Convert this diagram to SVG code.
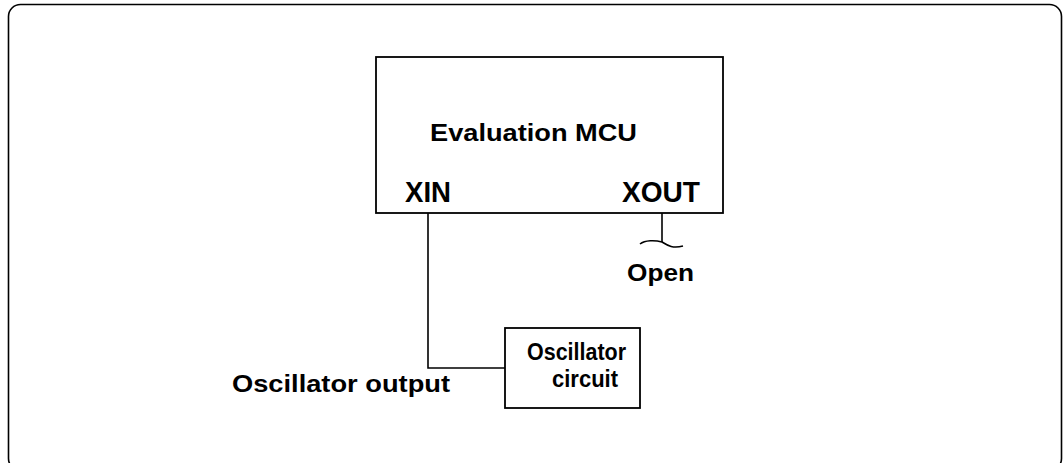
<svg xmlns="http://www.w3.org/2000/svg" width="1063" height="463" viewBox="0 0 1063 463">
<style>
.box{fill:#fff;stroke:#000;stroke-width:1.8}
.frame{fill:none;stroke:#000;stroke-width:1.6}
.wire{fill:none;stroke:#000;stroke-width:1.6}
.t{font-family:"Liberation Sans",Arial,sans-serif;font-weight:bold;fill:#000}
</style>
<rect x="0" y="0" width="1063" height="463" fill="#fff"/>
<rect class="frame" x="8.5" y="4.5" width="1053" height="466" rx="12"/>
<g id="connectors">
<polyline class="wire" points="428,213 428,368 505,368"/>
<line class="wire" x1="662" y1="213" x2="662" y2="242"/>
<path class="wire" d="M640,244 C645,240 655,240 662,242 C667,245 672,249 683,246"/>
</g>
<g id="mcu">
<rect class="box" x="376" y="57" width="347" height="156"/>
<text class="t" x="430" y="141" font-size="24" textLength="207" lengthAdjust="spacingAndGlyphs">Evaluation MCU</text>
<text class="t" x="405" y="202" font-size="29" textLength="46" lengthAdjust="spacingAndGlyphs">XIN</text>
<text class="t" x="622" y="202" font-size="29" textLength="78" lengthAdjust="spacingAndGlyphs">XOUT</text>
</g>
<g id="osc">
<rect class="box" x="505" y="328" width="135" height="80"/>
<text class="t" x="527" y="360" font-size="23" textLength="99" lengthAdjust="spacingAndGlyphs">Oscillator</text>
<text class="t" x="552" y="387" font-size="23" textLength="66" lengthAdjust="spacingAndGlyphs">circuit</text>
</g>
<g id="labels">
<text class="t" x="627" y="281" font-size="24" textLength="67" lengthAdjust="spacingAndGlyphs">Open</text>
<text class="t" x="232" y="392" font-size="24" textLength="218" lengthAdjust="spacingAndGlyphs">Oscillator output</text>
</g>
</svg>
